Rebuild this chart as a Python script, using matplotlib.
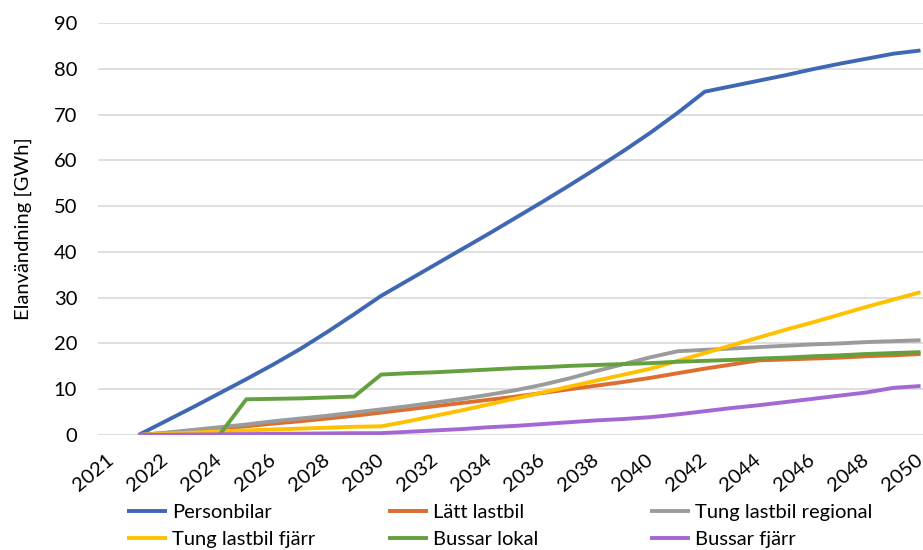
import matplotlib
matplotlib.use("Agg")
import matplotlib.pyplot as plt

plt.rcParams['font.family'] = ['Lato', 'DejaVu Sans']

years = list(range(2021, 2051))

personbilar = [0.0, 3.0, 6.0, 9.1, 12.2, 15.4, 18.8, 22.5, 26.4, 30.4,
               33.8, 37.2, 40.6, 44.0, 47.5, 51.0, 54.6, 58.3, 62.1, 66.1,
               70.4, 75.0, 76.2, 77.4, 78.6, 79.9, 81.1, 82.2, 83.3, 84.0]
latt_lastbil = [0.0, 0.4, 0.9, 1.4, 1.9, 2.5, 3.0, 3.6, 4.2, 4.9,
                5.6, 6.3, 7.0, 7.7, 8.4, 9.2, 10.0, 10.8, 11.6, 12.5,
                13.5, 14.5, 15.4, 16.3, 16.5, 16.7, 16.9, 17.2, 17.4, 17.7]
tung_regional = [0.0, 0.5, 1.1, 1.7, 2.3, 3.0, 3.6, 4.2, 4.9, 5.6,
                 6.3, 7.1, 7.9, 8.8, 9.8, 11.0, 12.4, 14.0, 15.5, 17.0,
                 18.3, 18.6, 18.9, 19.2, 19.5, 19.8, 20.0, 20.3, 20.5, 20.7]
tung_fjarr = [0.0, 0.3, 0.5, 0.8, 1.0, 1.2, 1.4, 1.6, 1.8, 1.9,
              3.0, 4.2, 5.4, 6.7, 8.0, 9.3, 10.6, 11.9, 13.2, 14.5,
              16.2, 17.9, 19.6, 21.3, 23.0, 24.6, 26.3, 28.0, 29.6, 31.2]
bussar_lokal = [0.0, 0.0, 0.0, 0.0, 7.8, 7.9, 8.0, 8.2, 8.4, 13.2,
                13.5, 13.7, 14.0, 14.3, 14.6, 14.8, 15.1, 15.3, 15.5, 15.7,
                16.0, 16.2, 16.4, 16.7, 16.9, 17.2, 17.4, 17.7, 17.9, 18.1]
bussar_fjarr = [0.0, 0.05, 0.1, 0.15, 0.2, 0.25, 0.3, 0.35, 0.4, 0.4,
                0.7, 1.0, 1.3, 1.7, 2.0, 2.4, 2.8, 3.2, 3.5, 3.9,
                4.5, 5.2, 5.9, 6.5, 7.2, 7.9, 8.6, 9.3, 10.3, 10.7]

series_names = ["Personbilar", "Lätt lastbil", "Tung lastbil regional",
                "Tung lastbil fjärr", "Bussar lokal", "Bussar fjärr"]
series_values = [personbilar, latt_lastbil, tung_regional,
                 tung_fjarr, bussar_lokal, bussar_fjarr]
series_colors = ["#4068B2", "#DC6E2E", "#9B9B9B", "#FFC000", "#64A03E", "#A468D5"]

x_tick_labels = ["2021", "2022", "2024", "2026", "2028", "2030", "2032", "2034",
                 "2036", "2038", "2040", "2042", "2044", "2046", "2048", "2050"]
y_ticks = [0, 10, 20, 30, 40, 50, 60, 70, 80, 90]

FS = 14.5
W, H = 923, 550
fig = plt.figure(figsize=(W / 100, H / 100), dpi=100)
ax = fig.add_axes([98 / W, 1 - 435 / H, 836 / W, 412 / H])

lines = {}
for name, vals, col in zip(series_names, series_values, series_colors):
    ln, = ax.plot(years, vals, color=col, lw=2.8, solid_joinstyle='miter',
                  solid_capstyle='butt', label=name, zorder=3)
    lines[name] = ln

ax.set_xlim(years[0] - 1.5, years[-1] + 0.5)
ax.set_ylim(0, 90)
ax.set_yticks(y_ticks)
ax.set_yticklabels([str(v) for v in y_ticks])

# first label sits one category ahead of the first data year
tick_pos = [years[0] - 1] + list(range(2022, 2051, 2))
ax.set_xticks(tick_pos)
ax.set_xticklabels(x_tick_labels, rotation=40, ha='right', va='center',
                   rotation_mode='anchor')

ax.grid(axis='y', color='#D9D9D9', lw=1.2, zorder=0)
ax.grid(axis='x', visible=False)
for s in ax.spines.values():
    s.set_visible(False)
ax.tick_params(axis='both', length=0, labelsize=FS, colors='#000000')
ax.tick_params(axis='y', pad=15)
ax.tick_params(axis='x', pad=16)

fig.text(23 / W, 1 - 229 / H, "Elanvändning [GWh]", rotation=90,
         ha='center', va='center', fontsize=FS)

legend_cols = [["Personbilar", "Tung lastbil fjärr"],
               ["Lätt lastbil", "Bussar lokal"],
               ["Tung lastbil regional", "Bussar fjärr"]]
col_left = [127, 388, 650]
for names, xl in zip(legend_cols, col_left):
    fig.legend([lines[n] for n in names], names, loc='upper left',
               bbox_to_anchor=(xl / W, 1 - 504 / H), frameon=False,
               fontsize=FS, handlelength=2.0, handletextpad=0.25,
               borderpad=0, borderaxespad=0, labelspacing=0.5)

fig.savefig("out.png", dpi=100)
